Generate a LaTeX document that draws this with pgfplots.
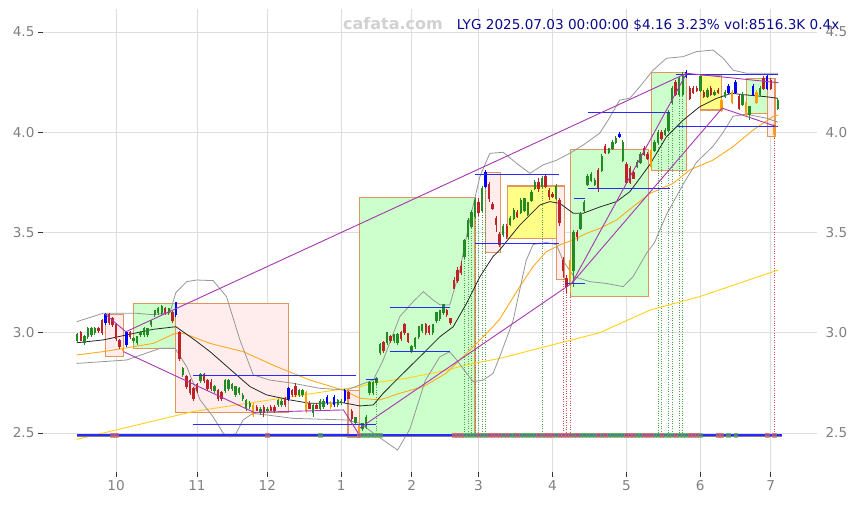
\documentclass[border=0pt]{standalone}
\usepackage{fontspec}
\setmainfont{DejaVu Sans}
\usepackage{pgfplots}
\usepackage{pgfplotstable}
\pgfplotsset{compat=1.18}

\definecolor{cgreen}{RGB}{34,139,34}
\definecolor{cred}{RGB}{190,35,40}
\definecolor{cblue}{RGB}{0,0,255}
\definecolor{corange}{RGB}{255,160,0}
\definecolor{boxgreen}{RGB}{204,255,204}
\definecolor{boxpink}{RGB}{255,236,236}
\definecolor{boxyellow}{RGB}{255,255,136}
\definecolor{boxedge}{RGB}{225,150,95}
\definecolor{lblue}{RGB}{40,40,255}
\definecolor{lpurple}{RGB}{165,55,175}
\definecolor{bbgray}{RGB}{150,150,150}
\definecolor{maorange}{RGB}{255,170,30}
\definecolor{mayellow}{RGB}{255,210,20}
\definecolor{titleblue}{RGB}{10,10,140}
\definecolor{ticklab}{RGB}{128,128,128}
\definecolor{mkred}{RGB}{205,105,105}
\definecolor{mkgreen}{RGB}{90,170,90}

% daily candles: trading-day index (0 = 2024-10-01), open high low close, kind (0 plain, 1 blue, 2 orange)
\pgfplotstableread{
t o h l c k
-11 2.96 3.00 2.95 2.99 0
-10 3.00 3.01 2.96 2.96 0
-9 2.95 2.99 2.94 2.98 0
-8 2.98 3.03 2.97 3.02 0
-7 2.99 3.03 2.98 3.02 0
-6 3.00 3.03 2.99 3.02 0
-5 3.02 3.03 3.00 3.01 0
-4 3.06 3.07 2.99 3.00 0
-3 3.05 3.10 3.04 3.09 1
-2 3.09 3.10 3.04 3.05 0
-1 3.07 3.08 3.03 3.04 0
0 3.04 3.05 2.96 2.97 0
1 2.96 2.97 2.92 2.93 0
2 2.92 2.93 2.90 2.91 2
3 2.94 3.00 2.93 3.00 1
4 3.00 3.01 2.97 2.98 0
5 2.96 2.98 2.95 2.97 0
6 2.95 2.98 2.94 2.98 0
7 2.99 3.01 2.98 3.00 0
8 2.99 3.03 2.98 3.02 0
9 2.99 3.02 2.98 3.02 0
10 3.04 3.06 3.03 3.06 0
11 3.09 3.11 3.08 3.11 0
12 3.10 3.13 3.09 3.12 0
13 3.10 3.14 3.09 3.13 0
14 3.12 3.13 3.09 3.10 0
15 3.10 3.12 3.09 3.12 0
16 3.10 3.11 3.05 3.06 0
17 3.09 3.15 3.08 3.15 1
18 3.00 3.01 2.86 2.87 0
19 2.79 2.83 2.78 2.82 0
20 2.78 2.79 2.72 2.73 0
21 2.76 2.77 2.69 2.70 0
22 2.72 2.73 2.66 2.67 0
23 2.74 2.75 2.70 2.71 0
24 2.76 2.80 2.75 2.79 0
25 2.79 2.80 2.75 2.76 0
26 2.76 2.77 2.71 2.72 0
27 2.75 2.77 2.71 2.72 0
28 2.71 2.74 2.70 2.73 0
29 2.71 2.72 2.66 2.67 0
30 2.70 2.71 2.66 2.67 0
31 2.71 2.77 2.70 2.76 0
32 2.72 2.77 2.71 2.76 0
33 2.72 2.75 2.71 2.74 0
34 2.69 2.73 2.68 2.73 0
35 2.70 2.73 2.69 2.72 0
36 2.67 2.70 2.66 2.69 0
37 2.62 2.67 2.61 2.665 0
38 2.63 2.66 2.62 2.65 0
39 2.64 2.65 2.58 2.59 2
40 2.63 2.64 2.61 2.61 0
41 2.60 2.63 2.59 2.62 0
42 2.63 2.64 2.58 2.60 0
43 2.61 2.63 2.60 2.62 0
44 2.63 2.64 2.61 2.61 0
45 2.63 2.64 2.60 2.61 0
46 2.64 2.67 2.63 2.665 0
47 2.64 2.67 2.63 2.66 0
48 2.67 2.68 2.63 2.64 0
49 2.67 2.73 2.66 2.72 1
50 2.71 2.72 2.68 2.69 0
51 2.73 2.75 2.68 2.69 0
52 2.69 2.72 2.68 2.71 0
53 2.69 2.72 2.68 2.71 0
54 2.70 2.71 2.60 2.61 2
55 2.65 2.66 2.62 2.62 0
56 2.60 2.65 2.58 2.64 0
57 2.64 2.65 2.62 2.62 0
58 2.62 2.67 2.61 2.66 0
59 2.63 2.67 2.62 2.66 0
60 2.65 2.69 2.64 2.68 1
61 2.65 2.66 2.62 2.63 2
62 2.64 2.69 2.63 2.68 1
63 2.64 2.67 2.63 2.665 0
64 2.65 2.67 2.64 2.66 0
65 2.66 2.72 2.65 2.71 1
66 2.70 2.71 2.67 2.67 0
67 2.61 2.62 2.56 2.57 0
68 2.55 2.58 2.54 2.58 0
69 2.53 2.54 2.50 2.51 2
70 2.52 2.55 2.51 2.55 0
71 2.53 2.59 2.52 2.58 0
72 2.70 2.76 2.69 2.75 0
73 2.70 2.76 2.69 2.75 0
74 2.75 2.78 2.74 2.77 0
75 2.90 2.95 2.89 2.94 0
76 2.95 2.96 2.90 2.91 0
77 2.95 3.00 2.94 3.00 0
78 2.98 2.99 2.95 2.96 0
79 2.96 2.99 2.95 2.99 0
80 2.95 3.00 2.94 2.99 0
81 3.00 3.01 2.96 2.97 0
82 3.04 3.05 2.99 3.00 0
83 2.995 3.00 2.95 2.955 0
84 2.91 2.94 2.90 2.93 0
85 2.93 2.98 2.92 2.97 0
86 2.98 3.03 2.97 3.03 0
87 3.01 3.04 3.00 3.04 0
88 3.04 3.05 2.99 3.00 0
89 3.03 3.04 2.99 3.00 0
90 3.00 3.04 2.99 3.04 0
91 3.06 3.10 3.05 3.10 0
92 3.07 3.11 3.06 3.11 0
93 3.10 3.14 3.09 3.14 0
94 3.11 3.12 3.08 3.09 0
95 3.07 3.07 3.04 3.05 0
96 3.26 3.28 3.22 3.22 0
97 3.31 3.33 3.25 3.26 0
98 3.33 3.36 3.29 3.30 0
99 3.38 3.47 3.37 3.46 0
100 3.48 3.57 3.47 3.56 0
101 3.53 3.61 3.52 3.60 0
102 3.58 3.67 3.57 3.66 0
103 3.65 3.67 3.58 3.60 0
104 3.61 3.73 3.60 3.72 0
105 3.73 3.81 3.72 3.80 1
106 3.74 3.75 3.65 3.67 0
107 3.64 3.65 3.61 3.62 0
108 3.57 3.58 3.50 3.54 0
109 3.49 3.50 3.43 3.44 0
110 3.49 3.54 3.48 3.53 0
111 3.53 3.54 3.47 3.48 0
112 3.54 3.58 3.53 3.57 0
113 3.57 3.62 3.56 3.61 0
114 3.60 3.61 3.57 3.58 0
115 3.60 3.67 3.59 3.66 0
116 3.61 3.67 3.60 3.67 0
117 3.59 3.65 3.58 3.65 0
118 3.66 3.71 3.65 3.70 0
119 3.72 3.76 3.71 3.75 0
120 3.75 3.77 3.70 3.72 0
121 3.73 3.78 3.72 3.77 0
122 3.78 3.79 3.72 3.73 0
123 3.71 3.72 3.66 3.68 0
124 3.69 3.70 3.67 3.68 0
125 3.67 3.74 3.66 3.73 0
126 3.66 3.67 3.53 3.55 0
127 3.36 3.38 3.28 3.31 0
128 3.27 3.29 3.20 3.23 0
129 3.36 3.37 3.20 3.24 2
130 3.31 3.51 3.23 3.50 0
131 3.50 3.51 3.46 3.48 0
132 3.52 3.60 3.51 3.59 0
133 3.61 3.66 3.60 3.65 0
134 3.74 3.79 3.73 3.78 0
135 3.76 3.80 3.75 3.79 0
136 3.74 3.77 3.73 3.76 0
137 3.81 3.82 3.70 3.72 0
138 3.81 3.89 3.80 3.88 0
139 3.93 3.94 3.89 3.90 0
140 3.90 3.92 3.89 3.92 0
141 3.92 3.96 3.91 3.95 0
142 3.95 3.98 3.94 3.97 0
143 3.98 4.00 3.97 3.99 1
144 3.86 3.96 3.85 3.95 0
145 3.84 3.85 3.74 3.75 0
146 3.82 3.83 3.74 3.75 0
147 3.80 3.81 3.77 3.77 0
148 3.83 3.86 3.82 3.85 0
149 3.85 3.90 3.84 3.89 0
150 3.92 3.93 3.88 3.89 0
151 3.89 3.90 3.86 3.87 0
152 3.91 3.93 3.81 3.83 2
153 3.91 3.96 3.90 3.95 0
154 3.95 4.01 3.94 4.00 0
155 4.00 4.01 3.96 3.97 0
156 3.99 4.02 3.98 4.01 0
157 4.01 4.11 4.00 4.10 0
158 4.15 4.23 4.14 4.22 0
159 4.25 4.26 4.18 4.19 0
160 4.19 4.28 4.18 4.27 0
161 4.19 4.30 4.18 4.29 0
162 4.28 4.31 4.27 4.30 1
163 4.22 4.23 4.16 4.17 0
164 4.22 4.23 4.19 4.20 0
165 4.22 4.23 4.20 4.21 0
166 4.21 4.29 4.20 4.28 0
167 4.20 4.21 4.17 4.18 0
168 4.18 4.22 4.17 4.21 0
169 4.22 4.23 4.18 4.19 0
170 4.19 4.21 4.18 4.20 0
171 4.21 4.22 4.19 4.20 0
172 4.16 4.17 4.10 4.11 2
173 4.18 4.21 4.17 4.20 0
174 4.20 4.24 4.19 4.23 1
175 4.20 4.21 4.14 4.15 2
176 4.20 4.26 4.19 4.25 1
177 4.18 4.19 4.11 4.12 0
178 4.14 4.20 4.13 4.19 0
179 4.15 4.16 4.08 4.09 2
180 4.09 4.13 4.06 4.13 0
181 4.19 4.24 4.18 4.23 1
182 4.20 4.21 4.14 4.15 2
183 4.19 4.23 4.18 4.22 0
184 4.27 4.28 4.21 4.22 0
185 4.22 4.29 4.21 4.28 1
186 4.26 4.27 4.21 4.22 0
187 4.04 4.05 3.97 3.99 2
188 4.12 4.17 4.11 4.16 0
}\candles

\pgfplotstableread{
t v
74 2.74
99 3.37
100 3.47
101 3.52
102 3.57
103 3.58
104 3.60
105 3.72
121 3.72
154 3.94
155 3.96
157 4.00
158 4.14
160 4.18
161 4.18
}\dotgreen

\pgfplotstableread{
t v
127 3.28
128 3.20
129 3.20
187 3.97
}\dotred

\pgfplotsset{
  nomark/.style={only marks, mark size=0pt, mark options={draw=none, fill=none}, forget plot},
  table/wickdata/.style={x=t, y expr={(\thisrow{h}+\thisrow{l})/2}, y error expr={(\thisrow{h}-\thisrow{l})/2}},
  table/bodydata/.style={x=t, y expr={(\thisrow{o}+\thisrow{c})/2}, y error expr={abs(\thisrow{c}-\thisrow{o})/2+0.002}},
  candle/.style 2 args={nomark,
    error bars/.cd, y dir=both, y explicit, error mark=none,
    error bar style={#1, line width=#2}, /pgfplots/.cd},
  isup/.style={restrict expr to domain={(\thisrow{k}==0)*(\thisrow{c}>=\thisrow{o})}{0.5:1.5}},
  isdown/.style={restrict expr to domain={(\thisrow{k}==0)*(\thisrow{c}<\thisrow{o})}{0.5:1.5}},
  iskind/.style={restrict expr to domain={(\thisrow{k}==#1)}{0.5:1.5}},
  box/.style={fill=#1, draw=boxedge, line width=1.1pt, forget plot},
  hline/.style={lblue, line width=1.1pt, forget plot},
  pline/.style={lpurple, line width=0.9pt, forget plot},
  daymark/.style={only marks, mark=square*, mark size=1.8pt, forget plot,
    color=#1, opacity=0.65},
}

\begin{document}
\begin{tikzpicture}
\begin{axis}[
  width=774pt, height=463pt, scale only axis,
  xmin=-20.74, xmax=199.15, ymin=2.3055, ymax=4.6147,
  axis line style={draw=none},
  xtick={0,23,43,64,84,103,124,145,166,186},
  xticklabels={10,11,12,1,2,3,4,5,6,7},
  ytick={2.5,3,3.5,4,4.5},
  xtick pos=bottom, ytick pos=left,
  tick align=outside, major tick length=5pt,
  tick style={color=black!80, line width=0.8pt},
  grid=major, major grid style={color=black!13, line width=0.8pt},
  tick label style={font=\fontsize{13.6}{16}\selectfont, text=ticklab},
  /pgf/number format/assume math mode=true,
  yticklabel style={/pgf/number format/.cd, fixed, fixed zerofill, precision=1},
]
% zones
\addplot[box=boxpink] coordinates {(-3.1,3.093) (2.1,3.093) (2.1,2.880) (-3.1,2.880)} -- cycle;
\addplot[box=boxgreen] coordinates {(4.9,3.147) (17,3.147) (17,2.922) (4.9,2.922)} -- cycle;
\addplot[box=boxpink] coordinates {(17,3.147) (49,3.147) (49,2.603) (17,2.603)} -- cycle;
\addplot[box=boxpink] coordinates {(65.9,2.714) (69.1,2.714) (69.1,2.48) (65.9,2.48)} -- cycle;
\addplot[box=boxgreen] coordinates {(69.1,3.676) (102,3.676) (102,2.482) (69.1,2.482)} -- cycle;
\addplot[box=boxpink] coordinates {(105,3.80) (109.3,3.80) (109.3,3.40) (105,3.40)} -- cycle;
\addplot[box=boxyellow] coordinates {(111.2,3.732) (125.2,3.732) (125.2,3.469) (111.2,3.469)} -- cycle;
\addplot[box=boxpink] coordinates {(125.2,3.732) (127.3,3.732) (127.3,3.267) (125.2,3.267)} -- cycle;
\addplot[box=boxgreen] coordinates {(129,3.912) (151.3,3.912) (151.3,3.18) (129,3.18)} -- cycle;
\addplot[box=boxgreen] coordinates {(152.2,4.297) (162,4.297) (162,3.807) (152.2,3.807)} -- cycle;
\addplot[box=boxyellow] coordinates {(166,4.281) (172,4.281) (172,4.111) (166,4.111)} -- cycle;
\addplot[box=boxgreen] coordinates {(179,4.269) (186,4.269) (186,4.095) (179,4.095)} -- cycle;
\addplot[box=boxpink] coordinates {(185,4.269) (187.2,4.269) (187.2,3.978) (185,3.978)} -- cycle;

% dotted drop lines
\addplot[nomark, error bars/.cd, y dir=minus, y explicit, error mark=none,
  error bar style={cgreen!80, dotted, line width=0.6pt}]
  table[x=t, y=v, y error expr={\thisrow{v}-2.49}] {\dotgreen};
\addplot[nomark, error bars/.cd, y dir=minus, y explicit, error mark=none,
  error bar style={cred!80, dotted, line width=0.6pt}]
  table[x=t, y=v, y error expr={\thisrow{v}-2.49}] {\dotred};

% long moving averages
\addplot[mayellow, line width=0.9pt, forget plot] coordinates {
(-11.2,2.468) (21.9,2.607) (64.5,2.72) (69.3,2.73) (73.1,2.75) (82.5,2.773) (92,2.806)
(101.5,2.847) (109,2.872) (137.4,3.0) (151.7,3.113) (165.8,3.18) (188.1,3.313)};
\addplot[maorange, line width=0.9pt, forget plot] coordinates {
(-11.2,2.889) (-3.6,2.906) (2.1,2.922) (10.6,2.947) (16.8,2.997) (19.2,2.997) (26.7,2.947)
(36.1,2.906) (45.6,2.831) (55.1,2.764) (64.5,2.714) (69.3,2.673) (75,2.665) (80.6,2.698)
(87.3,2.731) (93.7,2.797) (99.6,2.897) (103.4,2.964) (107.1,3.03) (109,3.068) (114.7,3.23)
(118.5,3.33) (122.2,3.404) (126.1,3.438) (129.9,3.463) (133.7,3.496) (137.4,3.52)
(142.2,3.562) (146.9,3.629) (151.7,3.695) (158.3,3.745) (163,3.812) (169.6,3.861)
(175.3,3.928) (181,4.011) (186.6,4.078) (188.1,4.086)};

% bollinger bands
\addplot[bbgray, line width=0.8pt, forget plot] coordinates {
(-11.2,3.055) (-3.7,3.097) (5.8,3.097) (10.5,3.09) (15.3,3.10) (17,3.20) (20.1,3.255)
(22.9,3.263) (27.6,3.26) (31.4,3.18) (35.2,2.964) (39,2.79) (43.7,2.764) (50.3,2.748)
(57.9,2.723) (65.5,2.714) (69.3,2.74) (73.1,2.764) (75.9,2.864) (80.6,3.08) (84.4,3.155)
(87.3,3.205) (90.1,3.163) (92,3.14) (94.8,3.138) (97.7,3.313) (100.5,3.562) (103.4,3.78)
(106.2,3.895) (110,3.90) (113.8,3.845) (117.6,3.795) (121.3,3.837) (125.1,3.86)
(128.9,3.895) (132.7,3.936) (137.4,3.995) (139.8,4.06) (143.1,4.16) (146,4.17)
(148.8,4.227) (152.6,4.31) (156.4,4.369) (161.1,4.377) (164.9,4.402) (169.6,4.41)
(172.5,4.369) (175.3,4.31) (179.1,4.294) (184.8,4.294) (188.1,4.294)};
\addplot[bbgray, line width=0.8pt, forget plot] coordinates {
(-11.2,2.847) (3.0,2.864) (12.5,2.922) (16.8,2.922) (20.1,2.83) (23.9,2.665) (27.6,2.58)
(30.5,2.498) (32.4,2.48) (34.1,2.498) (36.1,2.565) (38.9,2.598) (42.8,2.59) (50.3,2.573)
(59.8,2.568) (65.5,2.565) (69.3,2.548) (73.1,2.5) (75.9,2.465) (80,2.415) (83.5,2.52)
(87.9,2.764) (92,2.88) (94.8,2.905) (96.8,2.864) (99.6,2.797) (101.5,2.756) (104.3,2.764)
(107.1,2.797) (109,2.88) (112.8,3.06) (116.5,3.36) (118.5,3.44) (122.2,3.45) (125.1,3.44)
(127,3.36) (130.1,3.28) (134.6,3.255) (139.3,3.246) (144.1,3.23) (146.9,3.28)
(150.7,3.396) (153,3.45) (156.4,3.59) (161.1,3.74) (164.9,3.85) (169.6,3.93) (172.5,4.00)
(175.3,4.08) (179.1,4.09) (184.8,4.07) (188.1,4.05)};
\addplot[black!85, line width=0.8pt, forget plot] coordinates {
(-11.2,2.95) (-3.7,2.964) (3.0,2.989) (10.5,3.017) (17,3.03) (21.9,2.97) (26.7,2.906)
(33.2,2.806) (38.1,2.731) (42.8,2.69) (49.4,2.665) (55.1,2.648) (64.5,2.651) (69.3,2.635)
(73.1,2.64) (75.9,2.698) (80.6,2.781) (87.3,2.897) (92,2.98) (95.8,3.03) (99.6,3.147)
(103.4,3.28) (107.1,3.38) (109,3.413) (114.7,3.537) (120.4,3.637) (123.2,3.654)
(126.1,3.645) (129.9,3.596) (132.7,3.596) (137.4,3.627) (142.2,3.654) (146,3.704)
(148.8,3.77) (151.7,3.84) (156.4,3.978) (161.1,4.06) (165.8,4.127) (170.6,4.169)
(174.8,4.194) (179.1,4.186) (184.8,4.177) (188.1,4.169)};

% candles
\addplot[isup, candle={cgreen}{0.8pt}] table[wickdata] {\candles};
\addplot[isup, candle={cgreen}{2.4pt}] table[bodydata] {\candles};
\addplot[isdown, candle={cred}{0.8pt}] table[wickdata] {\candles};
\addplot[isdown, candle={cred}{2.4pt}] table[bodydata] {\candles};
\addplot[iskind=1, candle={cblue}{0.8pt}] table[wickdata] {\candles};
\addplot[iskind=1, candle={cblue}{2.4pt}] table[bodydata] {\candles};
\addplot[iskind=2, candle={corange}{0.8pt}] table[wickdata] {\candles};
\addplot[iskind=2, candle={corange}{2.4pt}] table[bodydata] {\candles};

% support / resistance levels
\addplot[hline] coordinates {(21.9,2.786) (68.2,2.786)};
\addplot[hline] coordinates {(21.9,2.543) (73.9,2.543)};
\addplot[hline] coordinates {(71,2.768) (74.1,2.768)};
\addplot[hline] coordinates {(77.8,3.127) (94.9,3.127)};
\addplot[hline] coordinates {(77.8,2.907) (94.9,2.907)};
\addplot[hline] coordinates {(102,3.79) (125.9,3.79)};
\addplot[hline] coordinates {(102,3.443) (125.9,3.443)};
\addplot[hline] coordinates {(130.1,3.67) (133.2,3.67)};
\addplot[hline] coordinates {(127.8,3.247) (133.2,3.247)};
\addplot[hline] coordinates {(134.1,3.72) (157.4,3.72)};
\addplot[hline] coordinates {(134.1,4.10) (157.4,4.10)};
\addplot[hline] coordinates {(159.1,4.29) (188,4.29)};
\addplot[hline] coordinates {(159.1,4.028) (188,4.028)};

% trend lines
\addplot[pline] coordinates {(-3.1,3.093) (2.8,3.005)};
\addplot[pline] coordinates {(2.8,3.005) (162.1,4.294)};
\addplot[pline] coordinates {(2.1,2.906) (39.2,2.603) (64.6,2.615) (68.8,2.50)};
\addplot[pline] coordinates {(69.3,2.525) (129.5,3.247) (172.2,4.12)};
\addplot[pline] coordinates {(129.5,3.247) (162.1,4.294)};
\addplot[pline] coordinates {(162.1,4.294) (188.2,4.247)};
\addplot[pline] coordinates {(172.2,4.12) (187.7,4.028)};

% daily markers and base line
\addplot[daymark=mkgreen]
  coordinates {(58,2.49) (70,2.49) (71,2.49) (72,2.49) (73,2.49) (74,2.49) (75,2.49) (99,2.49) (100,2.49)
  (101,2.49) (102,2.49) (104,2.49) (105,2.49) (110,2.49) (112,2.49) (113,2.49) (115,2.49) (116,2.49)
  (117,2.49) (118,2.49) (119,2.49) (121,2.49) (125,2.49) (130,2.49) (132,2.49) (133,2.49) (134,2.49)
  (135,2.49) (136,2.49) (138,2.49) (140,2.49) (141,2.49) (142,2.49) (143,2.49) (144,2.49) (148,2.49)
  (149,2.49) (153,2.49) (154,2.49) (156,2.49) (157,2.49) (158,2.49) (160,2.49) (161,2.49) (162,2.49)
  (166,2.49) (174,2.49) (176,2.49)};
\addplot[daymark=mkred]
  coordinates {(-1,2.49) (0,2.49) (43,2.49) (69,2.49) (96,2.49) (97,2.49) (98,2.49) (103,2.49) (106,2.49)
  (107,2.49) (108,2.49) (109,2.49) (111,2.49) (114,2.49) (120,2.49) (122,2.49) (123,2.49) (124,2.49)
  (126,2.49) (127,2.49) (128,2.49) (129,2.49) (131,2.49) (137,2.49) (139,2.49) (145,2.49) (146,2.49)
  (147,2.49) (150,2.49) (151,2.49) (152,2.49) (155,2.49) (159,2.49) (163,2.49) (164,2.49) (165,2.49)
  (171,2.49) (172,2.49) (185,2.49) (187,2.49)};
\addplot[black!50, line width=0.8pt, forget plot] coordinates {(-11,2.484) (189.2,2.484)};
\addplot[lblue, line width=1.1pt, forget plot] coordinates {(-11,2.49) (189.2,2.49)};
\end{axis}

% right-hand price labels
\begin{axis}[
  width=774pt, height=463pt, scale only axis,
  xmin=-20.74, xmax=199.15, ymin=2.3055, ymax=4.6147,
  axis line style={draw=none},
  xtick=\empty, ytick={2.5,3,3.5,4,4.5},
  ytick pos=right, yticklabel pos=right, major tick length=0pt,
  tick label style={font=\fontsize{13.6}{16}\selectfont, text=ticklab},
  /pgf/number format/assume math mode=true,
  yticklabel style={xshift=5pt, /pgf/number format/.cd, fixed, fixed zerofill, precision=1},
]
\addplot[draw=none, forget plot] coordinates {(0,3)};
\end{axis}

\node[anchor=base, text=black!18, font=\bfseries\fontsize{16}{18}\selectfont]
  at ([xshift=350pt, yshift=-21pt]current axis.north west) {cafata.com};
\node[anchor=base east, text=titleblue, font=\fontsize{13.6}{16}\selectfont]
  at ([xshift=26pt, yshift=-21pt]current axis.north east) {LYG 2025.07.03 00:00:00 \$4.16 3.23\% vol:8516.3K 0.4x};

\pgfresetboundingbox
\path[use as bounding box] ([shift={(-43pt,-33pt)}]current axis.south west) rectangle ([shift={(41pt,9pt)}]current axis.north east);
\end{tikzpicture}
\end{document}
